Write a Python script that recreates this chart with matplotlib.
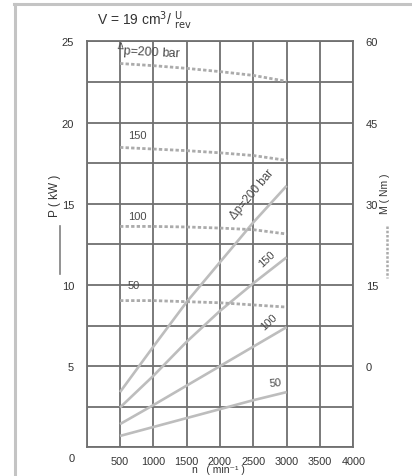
import matplotlib
matplotlib.use("Agg")
import matplotlib.pyplot as plt
from matplotlib.lines import Line2D

# ---- data ----
n = [500, 1000, 1500, 2000, 2500, 3000]
P_200 = [3.4, 6.2, 8.95, 11.4, 13.85, 16.1]
P_150 = [2.45, 4.4, 6.5, 8.4, 10.1, 11.7]
P_100 = [1.43, 2.6, 3.8, 5.0, 6.2, 7.4]
P_50 = [0.7, 1.25, 1.8, 2.35, 2.9, 3.4]
M_200 = [55.9, 55.5, 55.0, 54.4, 53.7, 52.6]
M_150 = [40.4, 40.1, 39.8, 39.4, 38.9, 38.0]
M_100 = [25.8, 25.8, 25.7, 25.5, 25.2, 24.4]
M_50 = [12.1, 12.1, 11.9, 11.7, 11.3, 10.9]

x_ticks = [0, 500, 1000, 1500, 2000, 2500, 3000, 3500, 4000]
x_ticklabels = ["", "500", "1000", "1500", "2000", "2500", "3000", "3500", "4000"]
p_ticks = [0, 2.5, 5, 7.5, 10, 12.5, 15, 17.5, 20, 22.5, 25]
p_ticklabels = ["", "", "5", "", "10", "", "15", "", "20", "", "25"]
m_ticks = [0, 15, 30, 45, 60]

W, H = 412, 477
plt.rcParams['font.family'] = ['Liberation Sans', 'DejaVu Sans']
fig = plt.figure(figsize=(W / 100, H / 100), dpi=100)


def fx(px):
    return px / W


def fy(py):
    return 1 - py / H


ax = fig.add_axes([fx(86.7), fy(448.3), fx(353.3) - fx(86.7), fy(42.3) - fy(448.3)])
ax.set_xlim(0, 4000)
ax.set_ylim(0, 25)

grid_c = "#707070"
curve_c = "#bdbdbd"
dot_c = "#ababab"
txt_c = "#333333"

ax.set_xticks(x_ticks)
ax.set_xticklabels(x_ticklabels)
ax.set_yticks(p_ticks)
ax.set_yticklabels(p_ticklabels)
ax.tick_params(length=0, labelsize=8, colors=txt_c, pad=9)
ax.tick_params(axis='x', pad=6, labelsize=7.8)
ax.grid(True, color=grid_c, linewidth=1.3)
for s in ax.spines.values():
    s.set_color(grid_c)
    s.set_linewidth(1.3)

for P in (P_200, P_150, P_100, P_50):
    ax.plot(n, P, color=curve_c, linewidth=1.9, solid_capstyle='butt')

ax2 = ax.twinx()
ax2.set_ylim(-15, 60)
ax2.set_yticks(m_ticks)
ax2.tick_params(length=0, labelsize=8, colors=txt_c, pad=9)
for s in ax2.spines.values():
    s.set_visible(False)
for M in (M_200, M_150, M_100, M_50):
    ax2.plot(n, M, color=dot_c, linewidth=2.0, linestyle=(0, (1.2, 0.8)))

# curve labels
lab_c = "#4a4a4a"
ax.text(450, 24.45, r"$^{\Delta}$p=200 bar", fontsize=9, color=lab_c,
        ha='left', va='center', rotation=-3, rotation_mode='anchor')
ax.text(755, 19.2, "150", fontsize=8, color=lab_c, ha='center', va='center')
ax.text(755, 14.25, "100", fontsize=8, color=lab_c, ha='center', va='center')
ax.text(705, 10.0, "50", fontsize=8, color=lab_c, ha='center', va='center')
ax.text(2475, 15.6, "Δp=200 bar", fontsize=8.5, color=lab_c, ha='center', va='center',
        rotation=50, rotation_mode='anchor')
ax.text(2700, 11.6, "150", fontsize=8, color=lab_c, ha='center', va='center',
        rotation=43, rotation_mode='anchor')
ax.text(2725, 7.73, "100", fontsize=8, color=lab_c, ha='center', va='center',
        rotation=43, rotation_mode='anchor')
ax.text(2825, 4.0, "50", fontsize=8, color=lab_c, ha='center', va='center',
        rotation=5, rotation_mode='anchor')

# bottom-left zero
fig.text(fx(72), fy(459), "0", fontsize=8, color=txt_c, ha='center', va='center')

# x label
fig.text(fx(218), fy(470.5), "n   ( min⁻¹ )", fontsize=7.5, color=txt_c,
         ha='center', va='center')

# title
fig.text(fx(97), fy(21), r"V = 19 cm$^3$/ $^{\mathrm{U}}_{\mathrm{rev}}$", fontsize=10,
         color=txt_c, ha='left', va='center')

# left y label with solid line key
fig.text(fx(55), fy(196), "P ( kW )", fontsize=8.5, color=txt_c, rotation=90,
         ha='center', va='center')
fig.add_artist(Line2D([fx(60), fx(60)], [fy(227), fy(275)], color="#808080",
                      linewidth=1.2, transform=fig.transFigure))

# right y label with dotted line key
fig.text(fx(385), fy(194), "M ( Nm )", fontsize=7.5, color=txt_c, rotation=90,
         ha='center', va='center')
fig.add_artist(Line2D([fx(387), fx(387)], [fy(227), fy(279)], color=dot_c,
                      linewidth=1.8, linestyle=(0, (1, 0.7)), transform=fig.transFigure))

# outer frame (partial)
fig.add_artist(Line2D([fx(15), fx(15)], [fy(5), fy(477)], color="#c4c4c4",
                      linewidth=2.2, transform=fig.transFigure))
fig.add_artist(Line2D([fx(14), fx(412)], [fy(5), fy(5)], color="#c4c4c4",
                      linewidth=2.2, transform=fig.transFigure))

fig.savefig("out.png", dpi=100, facecolor="white")
